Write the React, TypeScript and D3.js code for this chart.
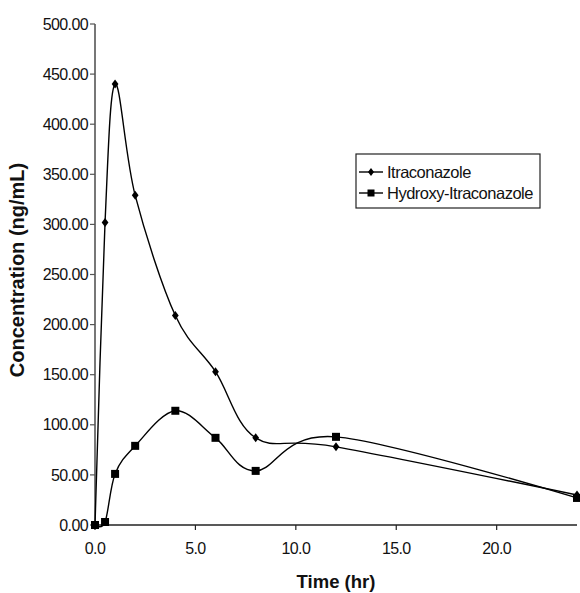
import React from "react";
import * as d3 from "d3";

// hours after dose
const times = [0, 0.5, 1, 2, 4, 6, 8, 12, 24];
// ng/mL
const itraconazole = [0, 302, 440, 329, 209, 153, 87, 78, 30];
const hydroxyItraconazole = [0, 3, 51, 79, 114, 87, 54, 88, 27];

const yTicks = [0, 50, 100, 150, 200, 250, 300, 350, 400, 450, 500];
const xTicks = [0, 5, 10, 15, 20];

export default function App() {
  const W = 580;
  const H = 593;
  const margin = { left: 95, right: 3, top: 24, bottom: 68 };

  const x = d3.scaleLinear().domain([0, 24]).range([margin.left, W - margin.right]);
  const y = d3.scaleLinear().domain([0, 500]).range([H - margin.bottom, margin.top]);

  const line = d3
    .line<number>()
    .x((_, i) => x(times[i]))
    .y((d) => y(d))
    .curve(d3.curveCardinal.tension(0));

  const font = "Arial, 'Liberation Sans', sans-serif";

  const diamond = (cx: number, cy: number, r = 4.5) =>
    `M${cx},${cy - r}L${cx + r * 0.75},${cy}L${cx},${cy + r}L${cx - r * 0.75},${cy}Z`;

  const lx = 356;
  const ly = 154;

  return (
    <svg width={W} height={H} style={{ position: "absolute", left: 0, top: 0, background: "#fff" }}>
      {/* axes */}
      <line x1={x(0)} x2={x(0)} y1={y(500)} y2={y(0)} stroke="#555" strokeWidth={1.6} />
      <line x1={x(0)} x2={x(24)} y1={y(0)} y2={y(0)} stroke="#222" strokeWidth={1.5} />
      {yTicks.map((t) => (
        <g key={t}>
          <line x1={x(0) - 5} x2={x(0)} y1={y(t)} y2={y(t)} stroke="#555" strokeWidth={1.2} />
          <text
            x={x(0) - 7}
            y={y(t)}
            dy="0.35em"
            textAnchor="end"
            fontFamily={font}
            fontSize={16}
            letterSpacing={-0.6}
            fill="#111"
          >
            {t.toFixed(2)}
          </text>
        </g>
      ))}
      {xTicks.map((t) => (
        <g key={t}>
          <line x1={x(t)} x2={x(t)} y1={y(0)} y2={y(0) + 5} stroke="#222" strokeWidth={1.2} />
          <text
            x={x(t)}
            y={y(0) + 29}
            textAnchor="middle"
            fontFamily={font}
            fontSize={16}
            letterSpacing={-0.6}
            fill="#111"
          >
            {t.toFixed(1)}
          </text>
        </g>
      ))}
      <text
        transform={`translate(24,270) rotate(-90)`}
        textAnchor="middle"
        fontFamily={font}
        fontWeight="bold"
        fontSize={20}
        fill="#111"
      >
        Concentration (ng/mL)
      </text>
      <text
        x={336}
        y={588}
        textAnchor="middle"
        fontFamily={font}
        fontWeight="bold"
        fontSize={18.5}
        fill="#111"
      >
        Time (hr)
      </text>

      {/* series */}
      <path d={line(itraconazole) || ""} fill="none" stroke="#000" strokeWidth={1.4} />
      <path d={line(hydroxyItraconazole) || ""} fill="none" stroke="#000" strokeWidth={1.4} />
      {itraconazole.map((v, i) => (
        <path key={"d" + i} d={diamond(x(times[i]), y(v))} fill="#000" />
      ))}
      {hydroxyItraconazole.map((v, i) => (
        <rect key={"s" + i} x={x(times[i]) - 4} y={y(v) - 4} width={8} height={8} fill="#000" />
      ))}

      {/* legend */}
      <rect x={lx} y={ly} width={184} height={54} fill="#fff" stroke="#222" strokeWidth={1.2} />
      <line x1={lx + 3} x2={lx + 27} y1={ly + 18} y2={ly + 18} stroke="#000" strokeWidth={1.4} />
      <path d={diamond(lx + 15, ly + 18, 4)} fill="#000" />
      <text x={lx + 31} y={ly + 18} dy="0.35em" fontFamily={font} fontSize={16.5} letterSpacing={-0.5} fill="#111">
        Itraconazole
      </text>
      <line x1={lx + 3} x2={lx + 27} y1={ly + 39} y2={ly + 39} stroke="#000" strokeWidth={1.4} />
      <rect x={lx + 11.5} y={ly + 35.5} width={7} height={7} fill="#000" />
      <text x={lx + 31} y={ly + 39} dy="0.35em" fontFamily={font} fontSize={16.5} letterSpacing={-0.5} fill="#111">
        Hydroxy-Itraconazole
      </text>
    </svg>
  );
}
